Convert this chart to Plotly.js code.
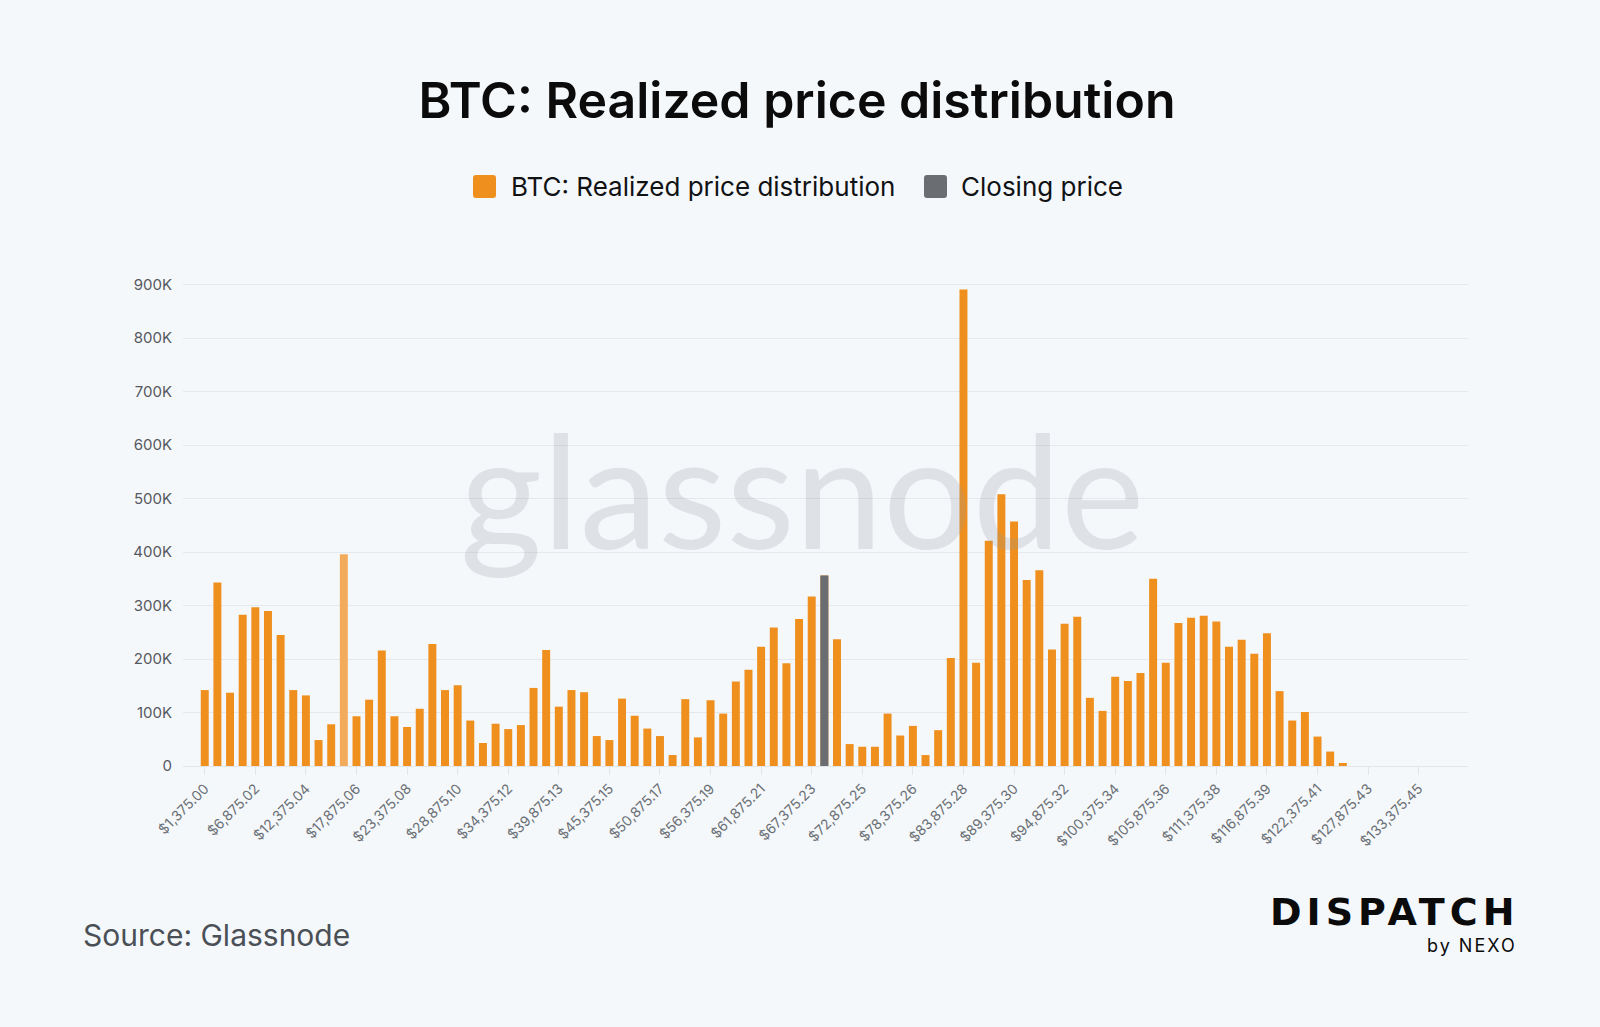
<!DOCTYPE html>
<html>
<head>
<meta charset="utf-8">
<script src="https://cdn.plot.ly/plotly-3.0.1.min.js"></script>
<style>
  html, body { margin: 0; padding: 0; background: #f5f8fb; }
  #chart { width: 1600px; height: 1027px; }
</style>
</head>
<body>
<div id="chart"></div>
<script>
// ---- data ----
const distributionValues = [
  142000, 343000, 137000, 283000, 297000, 290000, 245000, 142000, 132000, 48500,
  78000, 396000, 93000, 124000, 216000, 93000, 73000, 107000, 228000, 142000,
  151000, 85000, 43000, 79000, 69000, 76500, 146000, 217000, 111000, 142000,
  138000, 56000, 48500, 126000, 94000, 70000, 56000, 20500, 125000, 53500,
  123000, 98000, 158000, 180000, 223000, 259000, 192000, 275000, 317000, 356000,
  237000, 41000, 36000, 36000, 98000, 57000, 75000, 20500, 67000, 202000,
  891000, 193000, 421000, 508000, 457000, 348000, 366000, 218000, 266000, 279000,
  127500, 103000, 167000, 159000, 174000, 350000, 193000, 267500, 277000, 281000,
  270000, 223000, 236000, 210000, 248000, 140000, 85000, 101000, 55000, 27000,
  5600, 0, 0, 0, 0, 0, 0, 0, 0, 0
];
const closingBin = [49];
const closingValue = [356000];
const highlightedBin = 11;

const xTickLabels = [
  '$1,375.00', '$6,875.02', '$12,375.04', '$17,875.06', '$23,375.08', '$28,875.10',
  '$34,375.12', '$39,875.13', '$45,375.15', '$50,875.17', '$56,375.19', '$61,875.21',
  '$67,375.23', '$72,875.25', '$78,375.26', '$83,875.28', '$89,375.30', '$94,875.32',
  '$100,375.34', '$105,875.36', '$111,375.38', '$116,875.39', '$122,375.41',
  '$127,875.43', '$133,375.45'
];
const binsPerLabel = 4;
const yTickValues = [0, 100000, 200000, 300000, 400000, 500000, 600000, 700000, 800000, 900000];
const yTickLabels = ['0', '100K', '200K', '300K', '400K', '500K', '600K', '700K', '800K', '900K'];

// ---- styling ----
const ORANGE = '#ee8f1e';
const ORANGE_LIGHT = '#f2aa5b';
const GREY = '#6a6d71';
const BG = '#f5f8fb';

const W = 1600, H = 1027;
const M = { l: 183, r: 132, t: 282, b: 261 };
const PW = W - M.l - M.r, PH = H - M.t - M.b;
const xp = px => (px - M.l) / PW;
const yp = py => (H - M.b - py) / PH;

function roundRect(x0, y0, x1, y1, r) {
  const rx = r / PW, ry = r / PH;
  const a = xp(x0), b = xp(x1), top = yp(y0), bot = yp(y1);
  return `M ${a + rx} ${top} L ${b - rx} ${top} Q ${b} ${top} ${b} ${top - ry} ` +
         `L ${b} ${bot + ry} Q ${b} ${bot} ${b - rx} ${bot} L ${a + rx} ${bot} ` +
         `Q ${a} ${bot} ${a} ${bot + ry} L ${a} ${top - ry} Q ${a} ${top} ${a + rx} ${top} Z`;
}

const binIndex = distributionValues.map((_, i) => i);
const barColors = distributionValues.map((_, i) => i === highlightedBin ? ORANGE_LIGHT : ORANGE);

const traces = [
  {
    type: 'bar', name: 'BTC: Realized price distribution',
    x: binIndex, y: distributionValues,
    marker: { color: barColors, line: { width: 0 } },
    width: 0.63, hoverinfo: 'skip'
  },
  {
    type: 'bar', name: 'Closing price',
    x: closingBin, y: closingValue,
    marker: { color: GREY, line: { width: 0 } },
    width: 0.63, hoverinfo: 'skip'
  }
];

const layout = {
  width: W, height: H,
  paper_bgcolor: BG, plot_bgcolor: BG,
  margin: M,
  showlegend: false,
  barmode: 'overlay',
  font: { family: 'Inter, "Noto Sans", sans-serif', color: '#222' },
  title: {
    text: 'BTC: Realized price distribution',
    font: { family: 'Inter, sans-serif', size: 50, weight: 600, color: '#0b0b0c' },
    xref: 'container', yref: 'container',
    x: 797 / W, xanchor: 'center',
    y: 1 - 100 / H, yanchor: 'middle'
  },
  xaxis: {
    type: 'linear',
    range: [-1.72, 99.9],
    tickmode: 'array',
    tickvals: xTickLabels.map((_, i) => i * binsPerLabel),
    ticktext: xTickLabels,
    tickangle: -45,
    ticks: 'outside', ticklen: 8, tickwidth: 1, tickcolor: '#e2e5e9',
    tickfont: { family: 'Inter, sans-serif', size: 14, color: '#6b7076' },
    showgrid: false, zeroline: false, showline: false, fixedrange: true
  },
  yaxis: {
    range: [0, 905000],
    tickmode: 'array',
    tickvals: yTickValues,
    ticktext: yTickLabels,
    ticks: '', ticklabelstandoff: 10,
    tickfont: { family: 'Inter, sans-serif', size: 15, color: '#55595f' },
    showgrid: true, gridcolor: '#e5e8ec', gridwidth: 1,
    zeroline: true, zerolinecolor: '#e2e5e9', zerolinewidth: 1,
    showline: false, fixedrange: true
  },
  shapes: [
    { type: 'path', xref: 'paper', yref: 'paper', path: roundRect(473, 175, 496, 198, 3),
      fillcolor: ORANGE, line: { width: 0 } },
    { type: 'path', xref: 'paper', yref: 'paper', path: roundRect(924, 175, 947, 198, 3),
      fillcolor: GREY, line: { width: 0 } }
  ],
  annotations: [
    { text: 'glassnode', xref: 'paper', yref: 'paper', x: xp(801.6), y: yp(488),
      xanchor: 'center', yanchor: 'middle', showarrow: false,
      font: { family: 'Lato, sans-serif', size: 158, color: 'rgba(150,155,160,0.24)' } },
    { text: 'BTC: Realized price distribution', xref: 'paper', yref: 'paper',
      x: xp(509), y: yp(187), xanchor: 'left', yanchor: 'middle', showarrow: false,
      font: { family: 'Inter, sans-serif', size: 26, color: '#111214' } },
    { text: 'Closing price', xref: 'paper', yref: 'paper',
      x: xp(959), y: yp(187), xanchor: 'left', yanchor: 'middle', showarrow: false,
      font: { family: 'Inter, sans-serif', size: 26, color: '#111214' } },
    { text: 'Source: Glassnode', xref: 'paper', yref: 'paper',
      x: xp(80.5), y: yp(935), xanchor: 'left', yanchor: 'middle', showarrow: false,
      font: { family: 'Inter, sans-serif', size: 30, color: '#4b5057' } },
    { text: '<span style="letter-spacing:5px">DISPATCH</span>', xref: 'paper', yref: 'paper',
      x: xp(1521), y: yp(911.5), xanchor: 'right', yanchor: 'middle', showarrow: false,
      font: { family: '"DejaVu Sans", sans-serif', size: 38, weight: 700, color: '#0b0b0c' } },
    { text: '<span style="letter-spacing:2px">by NEXO</span>', xref: 'paper', yref: 'paper',
      x: xp(1519), y: yp(945), xanchor: 'right', yanchor: 'middle', showarrow: false,
      font: { family: 'Inter, sans-serif', size: 18, weight: 400, color: '#0b0b0c' } }
  ]
};

Plotly.newPlot('chart', traces, layout, { displayModeBar: false, staticPlot: true });
</script>
</body>
</html>
